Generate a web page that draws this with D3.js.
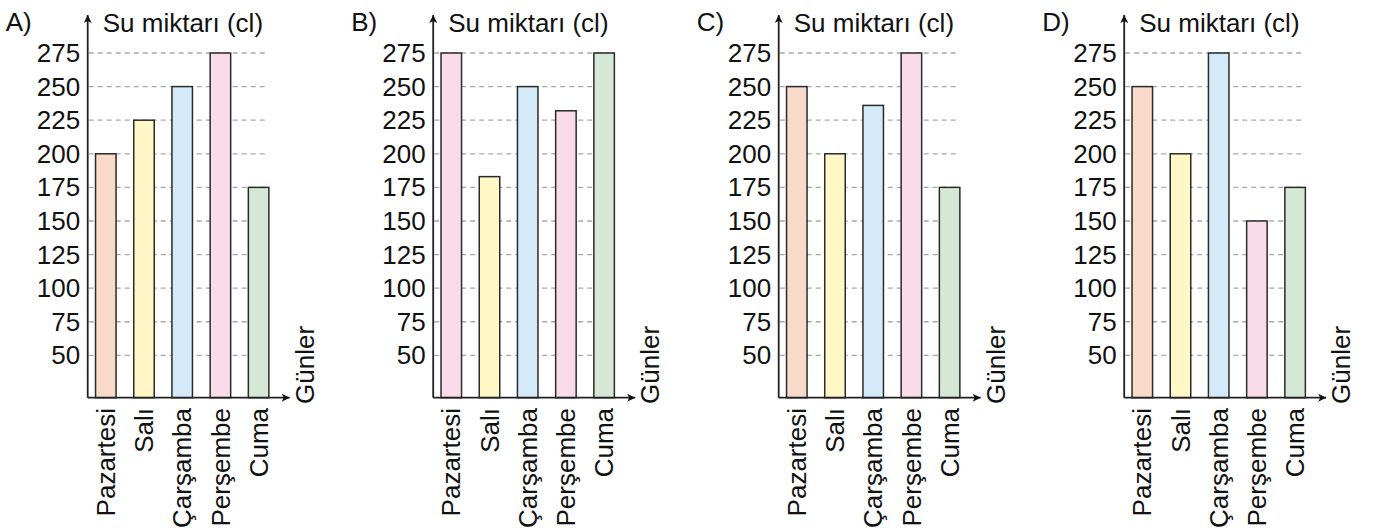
<!DOCTYPE html>
<html>
<head>
<meta charset="utf-8">
<script src="https://cdn.jsdelivr.net/npm/d3@7"></script>
<style>
  html, body { margin: 0; padding: 0; background: #fff; }
  svg { display: block; }
  text { font-family: "Liberation Sans", Arial, Helvetica, sans-serif; fill: #111; }
</style>
</head>
<body>
<svg id="chart" width="1376" height="530"></svg>
<script>
// ---- data ----
const days = ["Pazartesi", "Salı", "Çarşamba", "Perşembe", "Cuma"];
const panelLabels = ["A)", "B)", "C)", "D)"];
const valuesA = [200, 225, 250, 275, 175];
const valuesB = [275, 183, 250, 232, 275];
const valuesC = [250, 200, 236, 275, 175];
const valuesD = [250, 200, 275, 150, 175];
const colorsA = ["#f9d9c9", "#fff8c6", "#d4eaf9", "#f9dbea", "#d5e8d5"];
const colorsB = ["#f9dbea", "#fff8c6", "#d4eaf9", "#f9dbea", "#d5e8d5"];
const colorsC = ["#f9d9c9", "#fff8c6", "#d4eaf9", "#f9dbea", "#d5e8d5"];
const colorsD = ["#f9d9c9", "#fff8c6", "#d4eaf9", "#f9dbea", "#d5e8d5"];
const yTicks = [50, 75, 100, 125, 150, 175, 200, 225, 250, 275];
const yTitle = "Su miktarı (cl)";
const xTitle = "Günler";
const axisFloor = 18.5; // value at the axis baseline
const yMax = 275;

const panels = [
  { label: panelLabels[0], values: valuesA, colors: colorsA },
  { label: panelLabels[1], values: valuesB, colors: colorsB },
  { label: panelLabels[2], values: valuesC, colors: colorsC },
  { label: panelLabels[3], values: valuesD, colors: colorsD }
];

// ---- layout ----
const svg = d3.select("#chart");
const FS = 26;
const baseY = 397.7, topY = 53;
const firstAxisX = 87.7, panelStep = 345.5;

const y = d3.scaleLinear().domain([axisFloor, yMax]).range([baseY, topY]);
const x = d3.scaleBand().domain(days).range([0, 189]).paddingInner(0.463).paddingOuter(0.205);

const defs = svg.append("defs");
defs.append("marker")
  .attr("id", "arrow")
  .attr("viewBox", "0 0 10 10")
  .attr("refX", 10).attr("refY", 5)
  .attr("markerWidth", 9).attr("markerHeight", 8)
  .attr("markerUnits", "userSpaceOnUse")
  .attr("orient", "auto")
  .append("path").attr("d", "M0,0 L10,5 L0,10 L2.5,5 Z").attr("fill", "#111");

panels.forEach((p, i) => {
  const g = svg.append("g").attr("transform", `translate(${firstAxisX + i * panelStep},0)`);

  // grid
  g.append("g").selectAll("line").data(yTicks).join("line")
    .attr("x1", 1).attr("x2", 180)
    .attr("y1", d => y(d)).attr("y2", d => y(d))
    .attr("stroke", "#a8a8a8").attr("stroke-width", 1.3)
    .attr("stroke-dasharray", "5,4");

  // tick labels
  g.append("g").selectAll("text").data(yTicks).join("text")
    .attr("x", -7.5).attr("y", d => y(d)).attr("dy", "0.35em")
    .attr("text-anchor", "end").attr("font-size", FS)
    .text(d => d);

  // bars
  g.append("g").selectAll("rect").data(days).join("rect")
    .attr("x", d => x(d)).attr("width", x.bandwidth())
    .attr("y", (d, j) => y(p.values[j]))
    .attr("height", (d, j) => baseY - y(p.values[j]))
    .attr("fill", (d, j) => p.colors[j])
    .attr("stroke", "#2a2a2a").attr("stroke-width", 1.5);

  // axes
  g.append("line").attr("x1", 0).attr("x2", 0).attr("y1", baseY).attr("y2", 15)
    .attr("stroke", "#222").attr("stroke-width", 1.8).attr("marker-end", "url(#arrow)");
  g.append("line").attr("x1", 0).attr("x2", 202).attr("y1", baseY).attr("y2", baseY)
    .attr("stroke", "#222").attr("stroke-width", 1.8).attr("marker-end", "url(#arrow)");

  // category labels
  g.append("g").selectAll("text").data(days).join("text")
    .attr("transform", d => `translate(${x(d) + x.bandwidth() / 2},408) rotate(-90)`)
    .attr("dy", "0.35em").attr("text-anchor", "end").attr("font-size", FS)
    .text(d => d);

  // titles
  g.append("text").attr("x", 15).attr("y", 31.5).attr("font-size", FS).text(yTitle);
  g.append("text").attr("transform", "translate(226,404) rotate(-90)")
    .attr("font-size", FS).text(xTitle);
  g.append("text").attr("x", -82).attr("y", 31).attr("font-size", FS).text(p.label);
});
</script>
</body>
</html>
